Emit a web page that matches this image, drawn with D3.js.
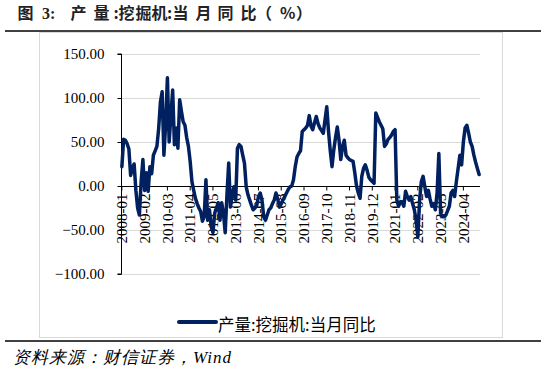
<!DOCTYPE html>
<html><head><meta charset="utf-8">
<script src="https://cdn.jsdelivr.net/npm/d3@7"></script>
<style>
body{margin:0;background:#fff;}
svg{display:block;}
</style></head>
<body>
<svg id="c" width="546" height="372"></svg>
<script>
const titleParts = ["图", "3:", "产", "量", ":", "挖", "掘", "机", ":", "当", "月", "同", "比", "（", "%", "）"];
const seriesName = "产量:挖掘机:当月同比";
const sourceText = "资料来源：财信证券，Wind";
const startYear = 2008, startMonth = 1, monthCount = 205;
const categories = [];
for (let k = 0; k < monthCount; k++) {
  const m = startMonth - 1 + k;
  const y = startYear + Math.floor(m / 12);
  const mm = (m % 12) + 1;
  categories.push(y + "-" + (mm < 10 ? "0" + mm : mm));
}
const values = [
  22, 53, 52, 48, 42, 12, 20, 25, -5, -25,
  -33, 5, 30, -5, 15, -6, 22, 14, 35, 40,
  45, 65, 95, 107, 35, 70, 123, 50, 80, 109,
  47, 66, 43, 98, 85, 73, 69, 55, 45, 28,
  5, -5, -14, -20, -25, -29, -40, -35, 7, -39,
  -27, -46, -53, -31, -25, -19, -39, -19, -31, -53,
  -10, 26, -24, -10, -1, -16, 43, 47, 45, 35,
  26, -1, -10, -16, -22, -27, -25, -22, -12, -8,
  -16, -35, -39, -33, -27, -25, -20, -16, -8, -15,
  -24, -20, -16, -12, -8, -4, -1, 0, 7, 22,
  33, 37, 40, 62, 64, 66, 69, 80, 68, 64,
  72, 79, 71, 66, 63, 60, 75, 90, 62, 40,
  22, 41, 55, 67, 52, 30, 45, 52, 35, 32,
  30, 29, 28, 15, 0, -8, -14, 11, 20, 24,
  18, 10, 7, 5, 3, 83, 78, 73, 69, 65,
  45, 48, 53, 55, 58, 62, 64, -16, -23, -18,
  -18, -23, -6, -12, -16, -12, -20, -27, -39, -58,
  -16, 5, 11, -1, -12, -5, -15, -23, -20, -27,
  -8, 37, -31, -35, -35, -33, -28, -23, -8, -5,
  -12, 5, 20, 35, 24, 50, 66, 69, 60, 50,
  45, 35, 27, 20, 13
];
const xTickLabels = ["2008-01","2009-02","2010-03","2011-04","2012-05","2013-06","2014-07","2015-08","2016-09","2017-10","2018-11","2019-12","2021-01","2022-02","2023-03","2024-04"];
const yTicks = [150, 100, 50, 0, -50, -100];

const svg = d3.select("#c");
const lineColor = "#002060";
const serif = "'Liberation Serif','Times New Roman',serif";
const cjk = "'Noto Sans CJK SC','Noto Sans',sans-serif";

// title, with the spread-out glyph spacing of the original
const titleX = [17.5, 42, 70.5, 93.5, 113.5, 118.5, 135.5, 151.5, 167, 172.5, 195.5, 217.5, 240.5, 256, 280, 296];
const title = svg.append("text").attr("y", 19)
  .attr("font-family", cjk).attr("font-weight", "bold").attr("font-size", 16).attr("fill", "#222");
titleParts.forEach((t, i) => {
  title.append("tspan").attr("x", titleX[i])
    .attr("font-family", t === "3:" ? serif : cjk).text(t);
});
svg.append("line").attr("x1", 5).attr("x2", 541).attr("y1", 31).attr("y2", 31)
  .attr("stroke", "#000").attr("stroke-width", 1.5);

// frame
svg.append("rect").attr("x", 39.5).attr("y", 32.5).attr("width", 463).attr("height", 305)
  .attr("fill", "none").attr("stroke", "#d9d9d9").attr("stroke-width", 1);

const x = d3.scaleBand().domain(categories).range([121, 480]).padding(0);
const y = d3.scaleLinear().domain([-100, 150]).range([274, 54]);
const cx = c => x(c) + x.bandwidth() / 2;

// gridlines
svg.append("g").selectAll("line").data(yTicks.filter(v => v !== 0)).join("line")
  .attr("x1", 121).attr("x2", 480)
  .attr("y1", d => Math.round(y(d)) + 0.5).attr("y2", d => Math.round(y(d)) + 0.5)
  .attr("stroke", "#d9d9d9").attr("stroke-width", 1);

// y axis
const yAxis = d3.axisLeft(y).tickValues(yTicks).tickSize(4).tickFormat(d => d3.format(".2f")(d));
const gy = svg.append("g").attr("transform", "translate(121.5,0)").call(yAxis);
gy.select(".domain").attr("stroke", "#000").attr("d", "M-4," + y(150) + "H0V" + y(-100) + "H-4");
gy.selectAll(".tick line").attr("stroke", "#000");
gy.selectAll(".tick text").attr("font-family", serif).attr("font-size", 15).attr("fill", "#000").attr("x", -17);

// x axis at zero
const xAxis = d3.axisBottom(x).tickValues(xTickLabels).tickSize(4).tickSizeOuter(0);
const gx = svg.append("g").attr("transform", "translate(0," + (Math.round(y(0)) + 0.5) + ")").call(xAxis);
gx.select(".domain").attr("stroke", "#000").attr("d", "M121,0H480");
gx.selectAll(".tick line").attr("stroke", "#000");
gx.selectAll(".tick text")
  .attr("font-family", serif).attr("font-size", 15).attr("fill", "#000")
  .attr("transform", "rotate(-90)").attr("text-anchor", "end")
  .attr("x", -7).attr("y", 0).attr("dy", "0.35em");

// series line
const line = d3.line().x((d, i) => cx(categories[i])).y(d => y(d)).curve(d3.curveLinear);
svg.append("path").datum(values).attr("d", line)
  .attr("fill", "none").attr("stroke", lineColor).attr("stroke-width", 3.5)
  .attr("stroke-linejoin", "round").attr("stroke-linecap", "round");

// legend
svg.append("line").attr("x1", 179).attr("x2", 216).attr("y1", 322).attr("y2", 322)
  .attr("stroke", lineColor).attr("stroke-width", 4).attr("stroke-linecap", "round");
svg.append("text").attr("x", 218).attr("y", 331)
  .attr("font-family", cjk).attr("font-size", 16.5).attr("fill", "#000").text(seriesName);

// bottom rule and source
svg.append("line").attr("x1", 5).attr("x2", 541).attr("y1", 341).attr("y2", 341)
  .attr("stroke", "#000").attr("stroke-width", 1.5);
svg.append("text").attr("x", 13).attr("y", 363)
  .attr("font-family", serif).attr("font-style", "italic").attr("font-size", 17)
  .attr("letter-spacing", 1).attr("fill", "#000").text(sourceText);
</script>
</body></html>
